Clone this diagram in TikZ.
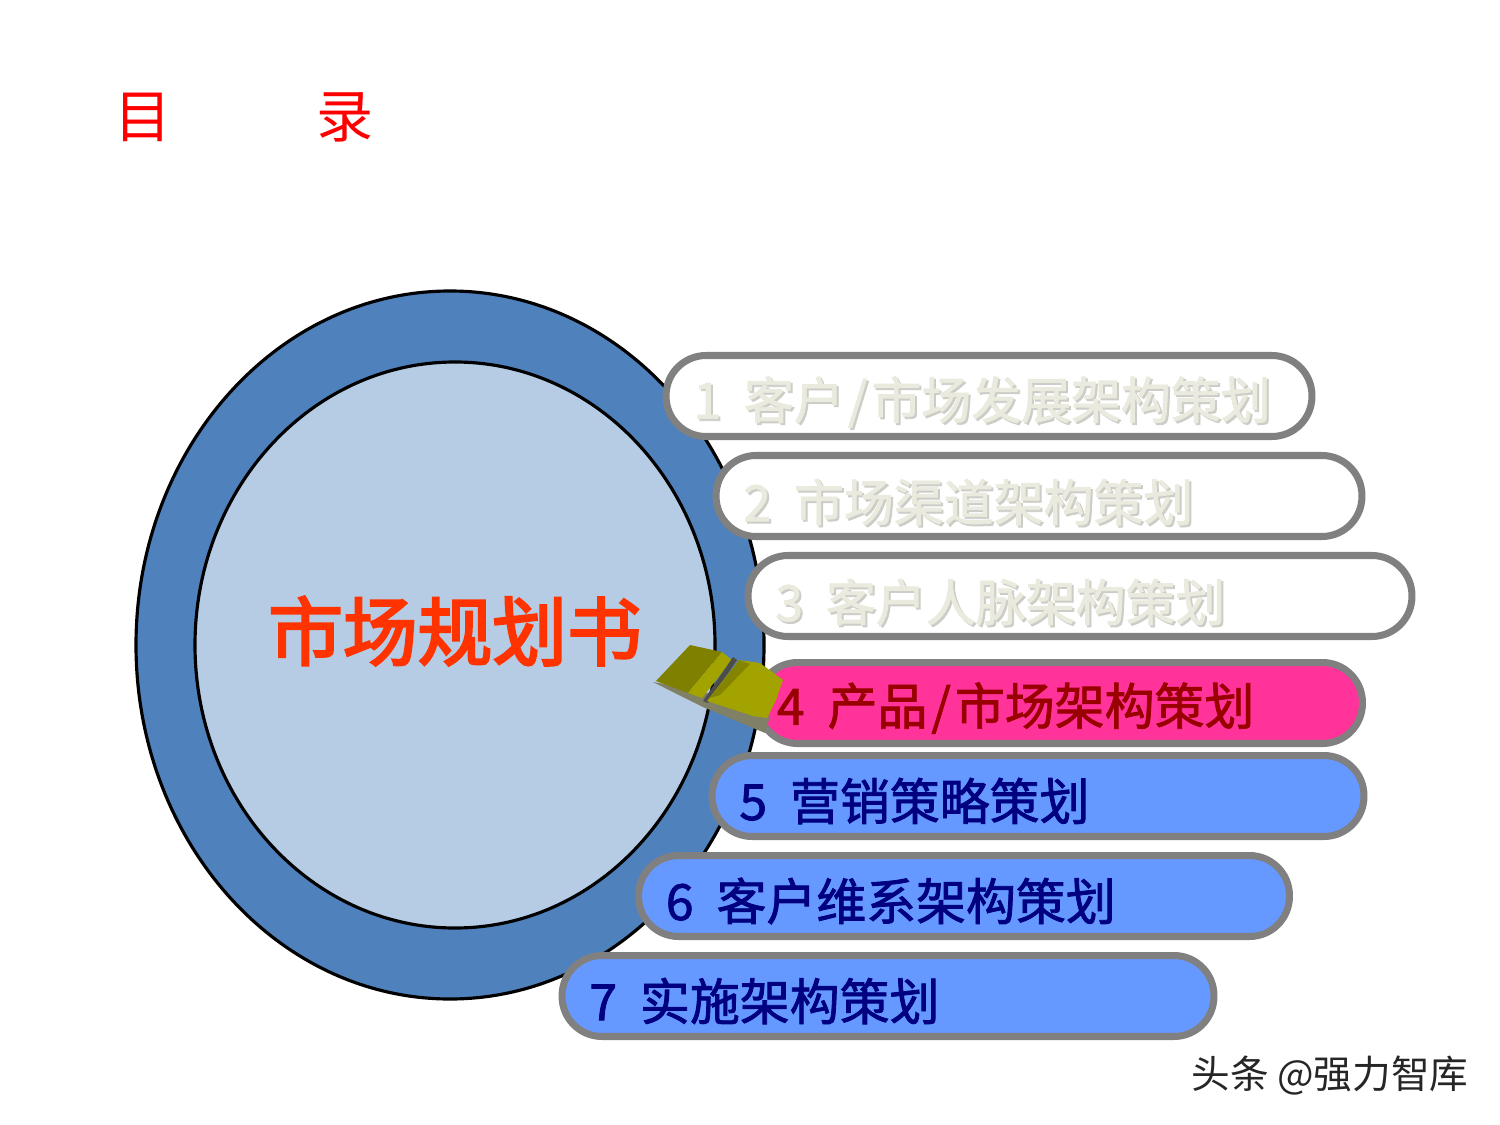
\documentclass[tikz,border=0pt]{standalone}
\usepackage{xcolor}
\usepackage{fontspec}
\setmainfont{Noto Sans CJK SC}
\newfontfamily\pillfont[FakeBold=1.6]{Noto Sans CJK SC}
\newfontfamily\planfont[FakeBold=3.2]{Noto Sans CJK SC}
\definecolor{ringblue}{RGB}{79, 129, 189}
\definecolor{coreblue}{RGB}{182, 204, 228}
\definecolor{pillgray}{RGB}{128, 128, 128}
\definecolor{pillpink}{RGB}{255, 51, 153}
\definecolor{pillblue}{RGB}{102, 153, 255}
\definecolor{planred}{RGB}{255, 51, 0}
\definecolor{ghosttext}{RGB}{234, 234, 222}
\definecolor{ghostshadow}{RGB}{205, 205, 200}
\definecolor{bookdark}{RGB}{128, 128, 0}
\definecolor{booklight}{RGB}{163, 163, 0}
\newcommand{\wideslash}{\hspace{0.08cm}/\hspace{0.08cm}}
\tikzset{
    pill/.style={draw=pillgray, line width=4pt, rounded corners=0.8cm, minimum height=1.62cm, inner sep=0pt, outer sep=0pt},
    pilltext/.style={anchor=west, inner sep=0pt, font=\pillfont\fontsize{28.4}{30}\selectfont},
}
\begin{document}
\begin{tikzpicture}[x=0.02cm, y=-0.02cm]
    \useasboundingbox (0,0) rectangle (1500,1125);

    % Title
    \node[text=red, font=\fontsize{32.5}{34}\selectfont, inner sep=0pt] (title) at (244,117) {目\hspace{2.91cm}录};

    % Circles
    \draw[line width=1.8pt, fill=ringblue] (450,645) ellipse [x radius=314, y radius=354];
    \draw[line width=1.8pt, fill=coreblue] (455,645) ellipse [x radius=260, y radius=283];
    \node[text=planred, font=\planfont\fontsize{42.5}{44}\selectfont, inner sep=0pt] (plan) at (455,631) {市场规划书};

    % Pills
    \node[pill, fill=white, minimum width=12.92cm] (p1) at (989,396) {};
    \node[pill, fill=white, minimum width=12.92cm] (p2) at (1039,496) {};
    \node[pill, fill=white, minimum width=13.28cm] (p3) at (1080,596) {};
    \node[pill, fill=pillpink, minimum width=12.1cm] (p4) at (1060,703) {};
    \node[pill, fill=pillblue, minimum width=13.04cm] (p5) at (1038,796) {};
    \node[pill, fill=pillblue, minimum width=13.02cm] (p6) at (964,896) {};
    \node[pill, fill=pillblue, minimum width=13.04cm] (p7) at (888,996) {};

    % Pill labels
    \node[pilltext, text=ghostshadow] (s1) at ([shift={(29,8)}]p1.west) {1\hspace{0.46cm}客户\wideslash 市场发展架构策划};
    \node[pilltext, text=ghosttext] (t1) at ([shift={(27,6)}]p1.west) {1\hspace{0.46cm}客户\wideslash 市场发展架构策划};
    \node[pilltext, text=ghostshadow] (s2) at ([shift={(29,8)}]p2.west) {2\hspace{0.46cm}市场渠道架构策划};
    \node[pilltext, text=ghosttext] (t2) at ([shift={(27,6)}]p2.west) {2\hspace{0.46cm}市场渠道架构策划};
    \node[pilltext, text=ghostshadow] (s3) at ([shift={(29,8)}]p3.west) {3\hspace{0.46cm}客户人脉架构策划};
    \node[pilltext, text=ghosttext] (t3) at ([shift={(27,6)}]p3.west) {3\hspace{0.46cm}客户人脉架构策划};
    \node[pilltext, text=red!60!black] (t4) at ([shift={(19,5)}]p4.west) {4\hspace{0.46cm}产品\wideslash 市场架构策划};
    \node[pilltext, text=blue!50!black] (t5) at ([shift={(27,5)}]p5.west) {5\hspace{0.46cm}营销策略策划};
    \node[pilltext, text=blue!50!black] (t6) at ([shift={(27,5)}]p6.west) {6\hspace{0.46cm}客户维系架构策划};
    \node[pilltext, text=blue!50!black] (t7) at ([shift={(27,5)}]p7.west) {7\hspace{0.46cm}实施架构策划};

    % Book
    \fill[pillgray!80!bookdark] (653,682) -- (703,707) -- (765,733) -- (770,716) -- (753,712) -- (700,690) -- cycle;
    \fill[bookdark] (656,681) -- (690,645) -- (722,652) -- (688,693) -- cycle;
    \fill[booklight] (722,652) -- (732,660) -- (702,698) -- (688,693) -- cycle;
    \fill[black!70] (733,657) -- (737,660) -- (708,703) -- (703,701) -- cycle;
    \fill[booklight] (739,660) -- (760,663) -- (783,680) -- (776,700) -- (767,718) -- (753,716) -- (707,701) -- cycle;
    \fill[bookdark!90!booklight] (739,660) -- (750,664) -- (720,695) -- (710,698) -- cycle;

    % Watermark
    \node[text=black!85, font=\fontsize{22}{24}\selectfont, inner sep=0pt] (mark) at (1330,1076) {头条 @强力智库};
\end{tikzpicture}
\end{document}
